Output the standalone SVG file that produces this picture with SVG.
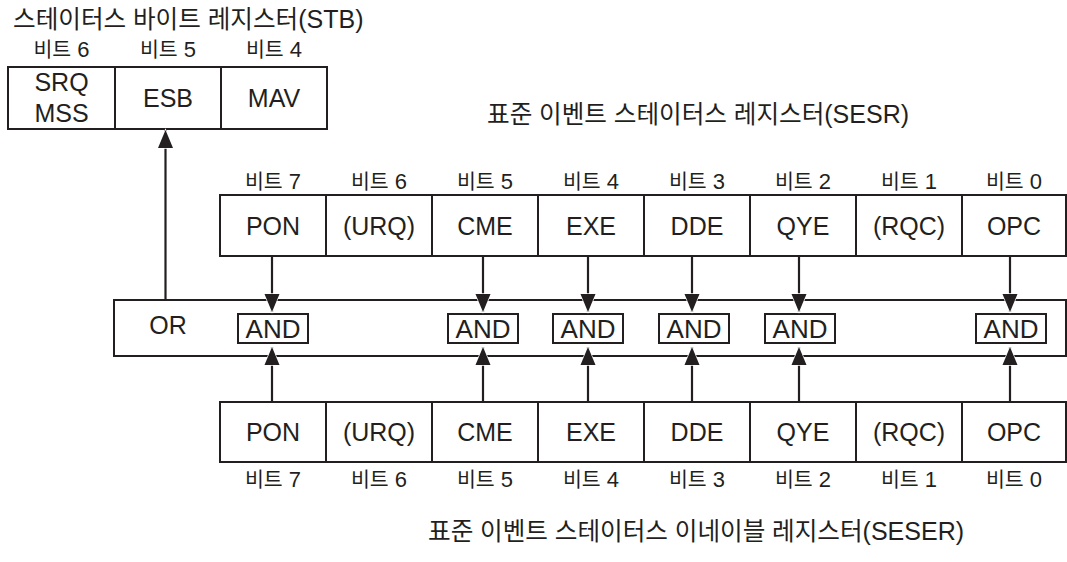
<svg xmlns="http://www.w3.org/2000/svg" width="1067" height="562" viewBox="0 0 1067 562">
<style>
  text { font-family: "Liberation Sans", "Noto Sans CJK KR", sans-serif; fill: #231f20; }
  .cell rect, .box { fill: #ffffff; stroke: #231f20; stroke-width: 2; }
  .ct { font-size: 25px; text-anchor: middle; }
  .lbl { font-size: 22px; text-anchor: middle; }
  .k { font-size: 20.5px; }
  .title { font-size: 25px; }
  .tk { font-size: 24.6px; }
  .and rect { fill: #ffffff; stroke: #231f20; stroke-width: 2; }
  .and text { font-size: 26px; text-anchor: middle; }
  .conn path { fill: none; stroke: #231f20; stroke-width: 2.2; }
</style>
<defs>
  <marker id="ah" viewBox="-2 -2 22 19" refX="18" refY="7.5" markerWidth="22" markerHeight="19" markerUnits="userSpaceOnUse" orient="auto" overflow="visible">
    <path d="M0,0 L18,7.5 L0,15 z" fill="#231f20" stroke="#ffffff" stroke-width="1.4" paint-order="stroke"/>
  </marker>
</defs>
<rect width="1067" height="562" fill="#ffffff"/>

<!-- Titles -->
<text class="title" x="13" y="28"><tspan class="tk">스테이터스 바이트 레지스터</tspan>(STB)</text>
<text class="title" x="487" y="123"><tspan class="tk">표준 이벤트 스테이터스 레지스터</tspan>(SESR)</text>
<text class="title" x="428" y="540"><tspan class="tk">표준 이벤트 스테이터스 이네이블 레지스터</tspan>(SESER)</text>

<!-- STB register -->
<g id="stb">
  <g id="stb-bit6" class="cell">
    <rect x="8" y="67" width="107" height="62"/>
    <text class="lbl" x="61.5" y="57"><tspan class="k">비트</tspan> 6</text>
    <text class="ct" x="61.5" y="91">SRQ</text>
    <text class="ct" x="61.5" y="122">MSS</text>
  </g>
  <g id="stb-bit5" class="cell">
    <rect x="115" y="67" width="106" height="62"/>
    <text class="lbl" x="168" y="57"><tspan class="k">비트</tspan> 5</text>
    <text class="ct" x="168" y="107">ESB</text>
  </g>
  <g id="stb-bit4" class="cell">
    <rect x="221" y="67" width="106" height="62"/>
    <text class="lbl" x="274" y="57"><tspan class="k">비트</tspan> 4</text>
    <text class="ct" x="274" y="107">MAV</text>
  </g>
</g>

<!-- SESR register -->
<g id="sesr">
  <g id="sesr-bit7" class="cell"><rect x="220" y="195" width="106" height="61"/><text class="lbl" x="273" y="189"><tspan class="k">비트</tspan> 7</text><text class="ct" x="273" y="234.5">PON</text></g>
  <g id="sesr-bit6" class="cell"><rect x="326" y="195" width="106" height="61"/><text class="lbl" x="379" y="189"><tspan class="k">비트</tspan> 6</text><text class="ct" x="379" y="234.5">(URQ)</text></g>
  <g id="sesr-bit5" class="cell"><rect x="432" y="195" width="106" height="61"/><text class="lbl" x="485" y="189"><tspan class="k">비트</tspan> 5</text><text class="ct" x="485" y="234.5">CME</text></g>
  <g id="sesr-bit4" class="cell"><rect x="538" y="195" width="106" height="61"/><text class="lbl" x="591" y="189"><tspan class="k">비트</tspan> 4</text><text class="ct" x="591" y="234.5">EXE</text></g>
  <g id="sesr-bit3" class="cell"><rect x="644" y="195" width="106" height="61"/><text class="lbl" x="697" y="189"><tspan class="k">비트</tspan> 3</text><text class="ct" x="697" y="234.5">DDE</text></g>
  <g id="sesr-bit2" class="cell"><rect x="750" y="195" width="106" height="61"/><text class="lbl" x="803" y="189"><tspan class="k">비트</tspan> 2</text><text class="ct" x="803" y="234.5">QYE</text></g>
  <g id="sesr-bit1" class="cell"><rect x="856" y="195" width="106" height="61"/><text class="lbl" x="909" y="189"><tspan class="k">비트</tspan> 1</text><text class="ct" x="909" y="234.5">(RQC)</text></g>
  <g id="sesr-bit0" class="cell"><rect x="962" y="195" width="104" height="61"/><text class="lbl" x="1014" y="189"><tspan class="k">비트</tspan> 0</text><text class="ct" x="1014" y="234.5">OPC</text></g>
</g>

<!-- OR box -->
<g id="or">
  <rect class="box" x="114" y="300" width="952" height="56"/>
  <text class="ct" x="168" y="334">OR</text>
</g>

<!-- SESER register -->
<g id="seser">
  <g id="seser-bit7" class="cell"><rect x="220" y="402" width="106" height="60"/><text class="lbl" x="273" y="487"><tspan class="k">비트</tspan> 7</text><text class="ct" x="273" y="441">PON</text></g>
  <g id="seser-bit6" class="cell"><rect x="326" y="402" width="106" height="60"/><text class="lbl" x="379" y="487"><tspan class="k">비트</tspan> 6</text><text class="ct" x="379" y="441">(URQ)</text></g>
  <g id="seser-bit5" class="cell"><rect x="432" y="402" width="106" height="60"/><text class="lbl" x="485" y="487"><tspan class="k">비트</tspan> 5</text><text class="ct" x="485" y="441">CME</text></g>
  <g id="seser-bit4" class="cell"><rect x="538" y="402" width="106" height="60"/><text class="lbl" x="591" y="487"><tspan class="k">비트</tspan> 4</text><text class="ct" x="591" y="441">EXE</text></g>
  <g id="seser-bit3" class="cell"><rect x="644" y="402" width="106" height="60"/><text class="lbl" x="697" y="487"><tspan class="k">비트</tspan> 3</text><text class="ct" x="697" y="441">DDE</text></g>
  <g id="seser-bit2" class="cell"><rect x="750" y="402" width="106" height="60"/><text class="lbl" x="803" y="487"><tspan class="k">비트</tspan> 2</text><text class="ct" x="803" y="441">QYE</text></g>
  <g id="seser-bit1" class="cell"><rect x="856" y="402" width="106" height="60"/><text class="lbl" x="909" y="487"><tspan class="k">비트</tspan> 1</text><text class="ct" x="909" y="441">(RQC)</text></g>
  <g id="seser-bit0" class="cell"><rect x="962" y="402" width="104" height="60"/><text class="lbl" x="1014" y="487"><tspan class="k">비트</tspan> 0</text><text class="ct" x="1014" y="441">OPC</text></g>
</g>

<!-- AND gates -->
<g id="and-7" class="and"><rect x="238" y="314" width="70" height="29"/><text x="273" y="337.5">AND</text></g>
<g id="and-5" class="and"><rect x="448" y="314" width="70" height="29"/><text x="483" y="337.5">AND</text></g>
<g id="and-4" class="and"><rect x="553" y="314" width="70" height="29"/><text x="588" y="337.5">AND</text></g>
<g id="and-3" class="and"><rect x="659" y="314" width="70" height="29"/><text x="694" y="337.5">AND</text></g>
<g id="and-2" class="and"><rect x="765" y="314" width="70" height="29"/><text x="800" y="337.5">AND</text></g>
<g id="and-0" class="and"><rect x="976" y="314" width="70" height="29"/><text x="1011" y="337.5">AND</text></g>

<!-- Connectors -->
<g id="connectors" class="conn">
  <path d="M272,256 L272,312" marker-end="url(#ah)"/>
  <path d="M483,256 L483,312" marker-end="url(#ah)"/>
  <path d="M588,256 L588,312" marker-end="url(#ah)"/>
  <path d="M692,256 L692,312" marker-end="url(#ah)"/>
  <path d="M799,256 L799,312" marker-end="url(#ah)"/>
  <path d="M1010,256 L1010,312" marker-end="url(#ah)"/>
  <path d="M272,402 L272,347" marker-end="url(#ah)"/>
  <path d="M483,402 L483,347" marker-end="url(#ah)"/>
  <path d="M588,402 L588,347" marker-end="url(#ah)"/>
  <path d="M692,402 L692,347" marker-end="url(#ah)"/>
  <path d="M799,402 L799,347" marker-end="url(#ah)"/>
  <path d="M1010,402 L1010,347" marker-end="url(#ah)"/>
  <path d="M165.5,300 L165.5,130" marker-end="url(#ah)"/>
</g>
</svg>
